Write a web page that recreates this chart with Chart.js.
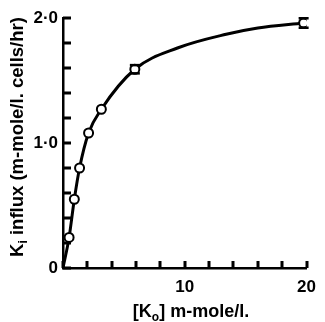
<!DOCTYPE html>
<html>
<head>
<meta charset="utf-8">
<script src="https://cdn.jsdelivr.net/npm/chart.js@4"></script>
<style>
  body { margin: 0; background: #fff; }
</style>
</head>
<body>
<canvas id="myChart" width="325" height="322"></canvas>
<script>
// external K (m-mole/l.) and K influx
const potassium = [0.5, 0.93, 1.36, 2.1, 3.15, 5.9, 19.76];
const influx = [0.245, 0.55, 0.80, 1.08, 1.27, 1.59, 1.96];
const influxError = [0, 0, 0, 0, 0, 0.035, 0.04];
// drawn curve (origin, the points, and where it bends between 6 and 20)
const curveX = [0, 0.5, 0.93, 1.36, 2.1, 3.15, 5.9, 9.4, 13.4, 16.0, 19.76];
const curveY = [0, 0.245, 0.55, 0.80, 1.08, 1.27, 1.59, 1.76, 1.87, 1.92, 1.96];
const xTickValues = [0, 2, 4, 6, 8, 10, 12, 14, 16, 18, 20];
const yTickValues = [0, 0.2, 0.4, 0.6, 0.8, 1.0, 1.2, 1.4, 1.6, 1.8, 2.0];
const xTickLabels = { 10: '10', 20: '20' };
const yTickLabels = { 0: '0', 1: '1·0', 2: '2·0' };

const labelFont = { family: 'Liberation Sans', size: 17, weight: 'bold' };

const paperAxes = {
  id: 'paperAxes',
  afterDraw(chart) {
    const ctx = chart.ctx;
    const xs = chart.scales.x, ys = chart.scales.y;
    const left = Math.round(xs.left), bottom = Math.round(ys.bottom);
    ctx.save();
    ctx.fillStyle = '#000';
    // inward ticks
    for (const v of xTickValues) {
      const px = Math.round(xs.getPixelForValue(v));
      ctx.fillRect(px - 1.5, bottom - 7, 3, 7);
    }
    for (const v of yTickValues) {
      const py = Math.round(ys.getPixelForValue(v));
      ctx.fillRect(left, py - 1.5, 8, 3);
    }
    // error bars
    potassium.forEach((k, i) => {
      if (!influxError[i]) return;
      const px = xs.getPixelForValue(k);
      const top = ys.getPixelForValue(influx[i] + influxError[i]);
      const bot = ys.getPixelForValue(influx[i] - influxError[i]);
      ctx.fillRect(px - 5, top - 1, 10, 2.5);
      ctx.fillRect(px - 5, bot - 1.5, 10, 2.5);
    });
    ctx.restore();

    // axis titles with subscripts
    ctx.save();
    ctx.fillStyle = '#000';
    ctx.textBaseline = 'alphabetic';
    function run(parts, size) {
      const big = 'bold ' + size + 'px "Liberation Sans"';
      const small = 'bold ' + Math.round(size * 0.65) + 'px "Liberation Sans"';
      let w = 0;
      parts.forEach(p => { ctx.font = p.sub ? small : big; w += ctx.measureText(p.t).width; });
      let x = -w / 2;
      parts.forEach(p => {
        ctx.font = p.sub ? small : big;
        ctx.fillText(p.t, x, p.sub ? 4 : 0);
        x += ctx.measureText(p.t).width;
      });
    }
    ctx.save();
    ctx.translate(23, 137);
    ctx.rotate(-Math.PI / 2);
    run([{ t: 'K' }, { t: 'i', sub: true }, { t: ' influx (m-mole/l. cells/hr)' }], 18.5);
    ctx.restore();
    ctx.save();
    ctx.translate(191, 317);
    run([{ t: '[K' }, { t: 'o', sub: true }, { t: '] m-mole/l.' }], 18);
    ctx.restore();
    ctx.restore();
  }
};

const data = {
  datasets: [{
    label: 'measured',
    data: potassium.map((k, i) => ({ x: k, y: influx[i] })),
    showLine: false,
    pointRadius: 4.5,
    pointBackgroundColor: '#fff',
    pointBorderColor: '#000',
    pointBorderWidth: 2
  }, {
    label: 'curve',
    data: curveX.map((k, i) => ({ x: k, y: curveY[i] })),
    showLine: true,
    pointRadius: 0,
    borderColor: '#000',
    borderWidth: 3,
    cubicInterpolationMode: 'monotone'
  }]
};

const config = {
  type: 'scatter',
  data: data,
  options: {
    responsive: false,
    animation: false,
    layout: { padding: { top: 18, right: 12, left: 0, bottom: 0 } },
    plugins: { legend: { display: false }, tooltip: { enabled: false } },
    scales: {
      x: {
        type: 'linear', min: 0, max: 20,
        grid: { display: false, drawTicks: false },
        border: { color: '#000', width: 2.5 },
        ticks: {
          stepSize: 2, padding: 9, color: '#000', font: labelFont, maxRotation: 0,
          autoSkip: false,
          callback: v => xTickLabels[v] || ''
        },
        afterFit: s => { s.height = 54; }
      },
      y: {
        type: 'linear', min: 0, max: 2,
        grid: { display: false, drawTicks: false },
        border: { color: '#000', width: 2.5 },
        ticks: {
          stepSize: 0.2, padding: 5, color: '#000', font: labelFont,
          autoSkip: false,
          callback: v => yTickLabels[Math.round(v * 10) / 10] || ''
        },
        afterFit: s => { s.width = 63; }
      }
    }
  },
  plugins: [paperAxes]
};

const myChart = new Chart(document.getElementById('myChart'), config);
</script>
</body>
</html>
